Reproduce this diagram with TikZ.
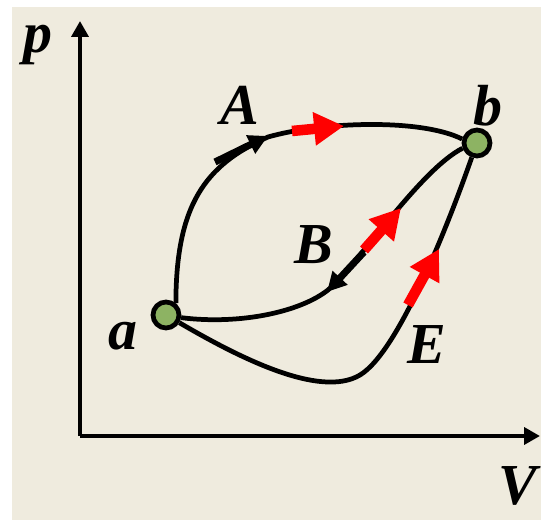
\documentclass[tikz,border=0pt]{standalone}
\usepackage{fontspec}
\setmainfont{Liberation Serif}
\usetikzlibrary{arrows.meta}
\definecolor{paper}{RGB}{239,235,222}
\definecolor{stategreen}{RGB}{141,179,99}
\begin{document}
\begin{tikzpicture}[x=0.02cm, y=-0.02cm, line width=2.7pt,
  every node/.style={font=\fontsize{33}{38}\selectfont\bfseries\itshape, inner sep=0pt},
  state/.style={circle, draw, fill=stategreen, line width=2.7pt, minimum size=0.52cm},
  axis/.style={line width=2.8pt, -{Triangle[width=9.5pt,length=9pt]}},
  redarrow/.style={red, line width=6pt, -{Triangle[width=18pt,length=17pt]}},
  blackarrow/.style={line width=4pt, -{Triangle[width=11pt,length=11pt]}}]
  \useasboundingbox (0,0) rectangle (541,520);
  \fill[white] (0,0) rectangle (541,520);
  \fill[paper] (12,7) rectangle (541,520);
  \coordinate (origin) at (80,436);
  \coordinate (ptip) at (80,21);
  \coordinate (vtip) at (540,436);
  \draw[axis] (origin) -- (ptip);
  \draw[axis] (origin) -- (vtip);
  \node (plabel) at (38,45) {p};
  \node (vlabel) at (518,486) {V};
  \node[state] (a) at (166,315) {};
  \node[state] (b) at (477,143) {};
  \node (alabel) at (123,336) {a};
  \node (blabel) at (488,106) {b};
  \node (Alabel) at (240,105) {A};
  \node (Blabel) at (314,245) {B};
  \node (Elabel) at (427,345) {E};
  \draw (a.50) .. controls (176,205) and (205,165) .. (268,137)
    .. controls (320,122) and (420,118) .. (b.165);
  \draw (a.-10) .. controls (240,325) and (300,312) .. (328,290)
    .. controls (360,262) and (420,170) .. (b.200);
  \draw (a.-30) .. controls (238,357) and (320,399) .. (360,375)
    .. controls (400,351) and (452,214) .. (b.250);
  \draw[blackarrow] (215,162) -- (268,136);
  \draw[redarrow] (292,131) -- (344,126);
  \draw[blackarrow] (364,252) -- (327,292);
  \draw[redarrow] (364,250) -- (401,208);
  \draw[redarrow] (408,305) -- (439,249);
\end{tikzpicture}
\end{document}
